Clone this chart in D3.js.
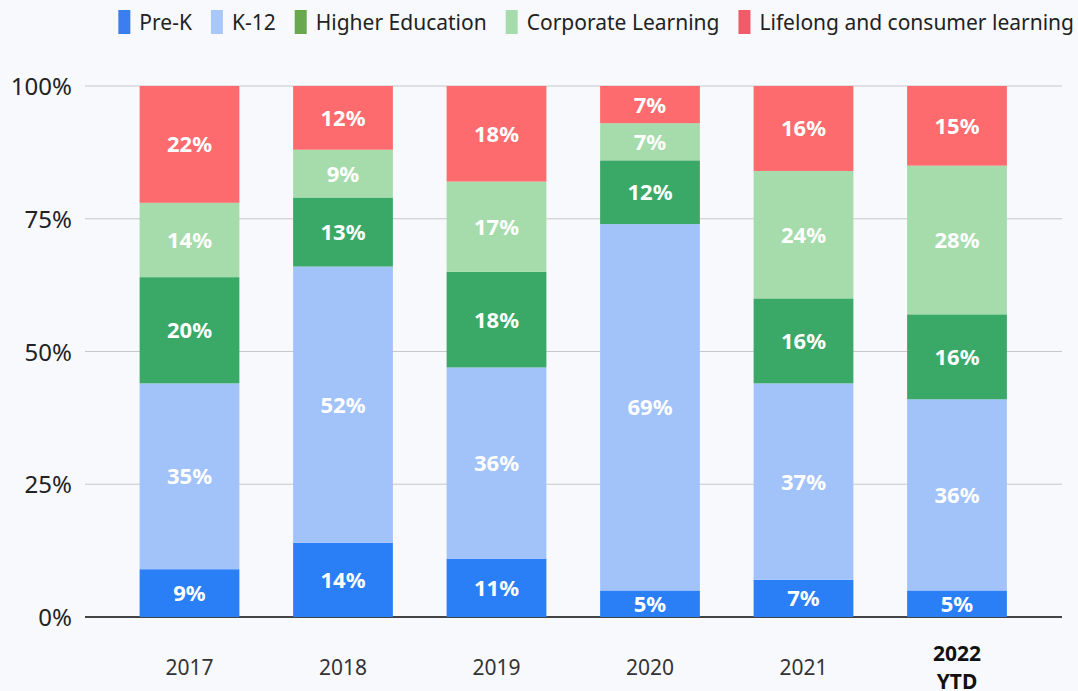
<!DOCTYPE html>
<html>
<head>
<meta charset="utf-8">
<script src="https://cdn.jsdelivr.net/npm/d3@7"></script>
<style>
  body { margin:0; background:#f8f9fd; }
  svg { display:block; font-family:"Source Sans Pro","Noto Sans",sans-serif; }
</style>
</head>
<body>
<div id="canvas"></div>
<script>
// data
var years = ['2017','2018','2019','2020','2021','2022 YTD'];
var series = ['Pre-K','K-12','Higher Education','Corporate Learning','Lifelong and consumer learning'];
var preK      = [9, 14, 11, 5, 7, 5];
var k12       = [35, 52, 36, 69, 37, 36];
var higherEd  = [20, 13, 18, 12, 16, 16];
var corporate = [14, 9, 17, 7, 24, 28];
var lifelong  = [22, 12, 18, 7, 16, 15];
var yTicks = [0, 25, 50, 75, 100];

var barColors = ['#2a7ff6','#a2c3fa','#3aa866','#a6dcab','#fe6b6e'];
var legendColors = ['#3a7ef0','#a8c7fa','#6aa84f','#a6dcab','#ef5b68'];

var W = 1078, H = 691;
var m = {t:86, r:16, b:74, l:85};
var h = H - m.t - m.b;

var rows = years.map(function(y,i){
  return {year:y, 'Pre-K':preK[i], 'K-12':k12[i], 'Higher Education':higherEd[i],
    'Corporate Learning':corporate[i], 'Lifelong and consumer learning':lifelong[i]};
});
var stacked = d3.stack().keys(series)(rows);

var svg = d3.select('#canvas').append('svg')
  .attr('width',W).attr('height',H);

var scaleX = d3.scaleBand()
  .domain(years)
  .range([112.75-m.l, 1033.75-m.l])
  .paddingInner(0.35)
  .paddingOuter(0.175);
var scaleY = d3.scaleLinear().domain([0,100]).range([h,0]);

var plot = svg.append('g').attr('transform','translate('+m.l+','+m.t+')');

// gridlines
plot.append('g').selectAll('line')
  .data(yTicks)
  .enter().append('line')
  .attr('x1',0).attr('x2',1062-m.l)
  .attr('y1',function(d){return scaleY(d)}).attr('y2',function(d){return scaleY(d)})
  .attr('stroke',function(d){return d===0?'#444':'#c8c8c8'})
  .attr('stroke-width',function(d){return d===0?2:1.2});

// y labels
plot.append('g').selectAll('text')
  .data(yTicks)
  .enter().append('text')
  .attr('x',-13).attr('y',function(d){return scaleY(d)+9})
  .attr('text-anchor','end')
  .attr('font-size',24).attr('fill','#222')
  .text(function(d){return d+'%'});

// bars
var layers = plot.selectAll('.layer')
  .data(stacked)
  .enter().append('g')
  .attr('class','layer')
  .attr('fill',function(d,i){return barColors[i]});

layers.selectAll('rect')
  .data(function(d){return d})
  .enter().append('rect')
  .attr('x',function(d){return scaleX(d.data.year)})
  .attr('width',scaleX.bandwidth())
  .attr('y',function(d){return scaleY(d[1])})
  .attr('height',function(d){return scaleY(d[0])-scaleY(d[1])});

layers.selectAll('text')
  .data(function(d){return d})
  .enter().append('text')
  .attr('x',function(d){return scaleX(d.data.year)+scaleX.bandwidth()/2})
  .attr('y',function(d){return (scaleY(d[0])+scaleY(d[1]))/2+8})
  .attr('text-anchor','middle')
  .attr('font-size',22).attr('font-weight','bold').attr('fill','#fff')
  .text(function(d){return (d[1]-d[0])+'%'});

// x labels
var xl = plot.append('g').selectAll('text')
  .data(years)
  .enter().append('text')
  .attr('x',function(d){return scaleX(d)+scaleX.bandwidth()/2})
  .attr('y',h+58)
  .attr('text-anchor','middle')
  .attr('font-size',21)
  .attr('font-weight',function(d){return d.indexOf('YTD')>=0?'bold':'normal'})
  .attr('fill',function(d){return d.indexOf('YTD')>=0?'#111':'#333'});
xl.each(function(d){
  var parts = d.split(' ');
  var t = d3.select(this);
  parts.forEach(function(p,i){
    t.append('tspan').attr('x',t.attr('x')).attr('dy',i===0?(parts.length>1?-14:0):28).text(p);
  });
});

// legend
var legend = svg.append('g');
var items = legend.selectAll('g')
  .data(series)
  .enter().append('g');
items.append('rect')
  .attr('width',12).attr('height',24).attr('y',10)
  .attr('fill',function(d,i){return legendColors[i]});
items.append('text')
  .attr('x',21).attr('y',30)
  .attr('font-size',21).attr('fill','#222')
  .text(function(d){return d});
var xPos = 0;
items.each(function(){
  var g = d3.select(this);
  g.attr('transform','translate('+xPos+',0)');
  xPos += 21 + g.select('text').node().getComputedTextLength() + 19;
});
var total = xPos - 19;
legend.attr('transform','translate('+(1074-total)+',0)');
</script>
</body>
</html>
